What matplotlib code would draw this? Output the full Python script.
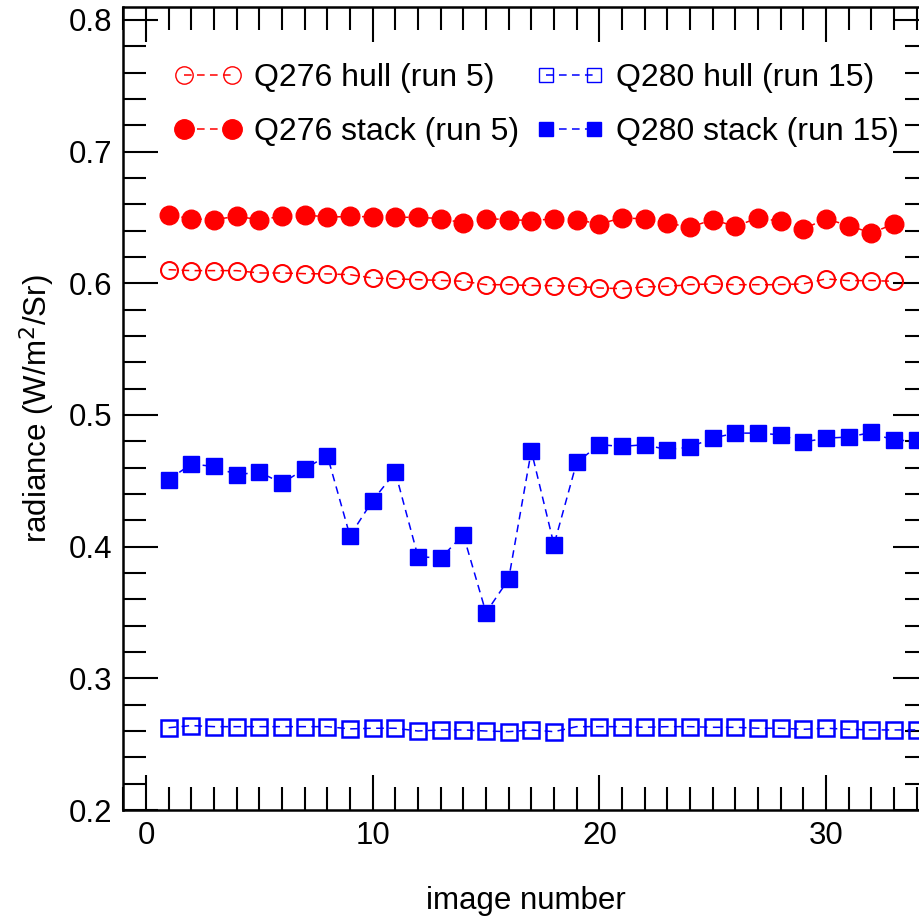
import numpy as np
import matplotlib
matplotlib.use("Agg")
import matplotlib.pyplot as plt
from matplotlib.lines import Line2D
from matplotlib.ticker import MultipleLocator

plt.rcParams["font.family"] = ["Liberation Sans", "DejaVu Sans"]

# values
image_red = np.arange(1, 34)
image_blue = np.arange(1, 35)

q276_hull = [0.6103, 0.6096, 0.6096, 0.6096, 0.6078, 0.6078, 0.6073, 0.6071, 0.6065, 0.6040,
             0.6033, 0.6027, 0.6022, 0.6015, 0.5989, 0.5989, 0.5982, 0.5982, 0.5977, 0.5964,
             0.5959, 0.5972, 0.5977, 0.5989, 0.5995, 0.5989, 0.5989, 0.5989, 0.5995, 0.6033,
             0.6020, 0.6020, 0.6015]
q276_stack = [0.6521, 0.6489, 0.6483, 0.6508, 0.6483, 0.6508, 0.6521, 0.6501, 0.6508, 0.6504,
              0.6501, 0.6501, 0.6491, 0.6458, 0.6491, 0.6483, 0.6476, 0.6489, 0.6483, 0.6450,
              0.6496, 0.6489, 0.6458, 0.6425, 0.6483, 0.6432, 0.6496, 0.6470, 0.6412, 0.6489,
              0.6438, 0.6382, 0.6450]
q280_hull = [0.2625, 0.2641, 0.2633, 0.2633, 0.2633, 0.2633, 0.2633, 0.2633, 0.2616, 0.2621,
             0.2621, 0.2600, 0.2608, 0.2608, 0.2600, 0.2595, 0.2608, 0.2595, 0.2633, 0.2633,
             0.2633, 0.2628, 0.2633, 0.2633, 0.2628, 0.2628, 0.2621, 0.2621, 0.2613, 0.2621,
             0.2613, 0.2608, 0.2608, 0.2608]
q280_stack = [0.4508, 0.4627, 0.4609, 0.4546, 0.4566, 0.4482, 0.4589, 0.4692, 0.4082, 0.4350,
              0.4566, 0.3925, 0.3912, 0.4090, 0.3499, 0.3753, 0.4728, 0.4014, 0.4639, 0.4774,
              0.4761, 0.4774, 0.4736, 0.4756, 0.4824, 0.4862, 0.4862, 0.4849, 0.4794, 0.4824,
              0.4832, 0.4867, 0.4806, 0.4806]

labels = ["Q276 hull (run 5)", "Q276 stack (run 5)", "Q280 hull (run 15)", "Q280 stack (run 15)"]

red = "#ff0000"
blue = "#0000ff"
dash = (0, (5, 3.5))

fig = plt.figure(figsize=(9.2, 9.19), dpi=100)
ax = fig.add_axes([0.134, 0.1186, 0.8747, 0.8741])

ax.plot(image_red, q276_hull, ls=dash, lw=1.1, color=red, marker="o", ms=12.2,
        mfc="none", mec=red, mew=1.5)
ax.plot(image_red, q276_stack, ls=dash, lw=1.1, color=red, marker="o", ms=13.4,
        mfc=red, mec=red, mew=1)
ax.plot(image_blue, q280_hull, ls=dash, lw=1.1, color=blue, marker="s", ms=11,
        mfc="none", mec=blue, mew=1.8)
ax.plot(image_blue, q280_stack, ls=dash, lw=1.1, color=blue, marker="s", ms=11,
        mfc=blue, mec=blue, mew=1)

ax.set_xlim(-1, 34.5)
ax.set_ylim(0.2, 0.81)
ax.xaxis.set_major_locator(MultipleLocator(10))
ax.xaxis.set_minor_locator(MultipleLocator(1))
ax.yaxis.set_major_locator(MultipleLocator(0.1))
ax.yaxis.set_minor_locator(MultipleLocator(0.02))
ax.tick_params(which="both", direction="in", top=True, right=True, width=1.5,
               labelsize=22.5, pad=8)
ax.tick_params(which="major", length=25)
ax.tick_params(which="minor", length=16.5)
for s in ax.spines.values():
    s.set_linewidth(1.8)

ax.set_xlabel("image number", fontsize=22.5, labelpad=25)
ax.set_ylabel("radiance (W/m$^2$/Sr)", fontsize=22.5, labelpad=8)

# legend proxies (thinner marker edges than in the plot)
handles = [
    Line2D([], [], ls=dash, lw=1.1, color=red, marker="o", ms=12.5, mfc="none", mec=red, mew=1),
    Line2D([], [], ls=dash, lw=1.1, color=red, marker="o", ms=14, mfc=red, mec=red, mew=1),
    Line2D([], [], ls=dash, lw=1.1, color=blue, marker="s", ms=10, mfc="none", mec=blue, mew=1),
    Line2D([], [], ls=dash, lw=1.1, color=blue, marker="s", ms=10.5, mfc=blue, mec=blue, mew=1),
]
ax.legend(handles, labels, ncol=2, loc="upper left", bbox_to_anchor=(0.064, 0.93),
          frameon=False, fontsize=23, numpoints=2, handlelength=2.1, handletextpad=0.38,
          columnspacing=0.55, labelspacing=0.76, borderpad=0, borderaxespad=0)

fig.savefig("out.png", dpi=100)
